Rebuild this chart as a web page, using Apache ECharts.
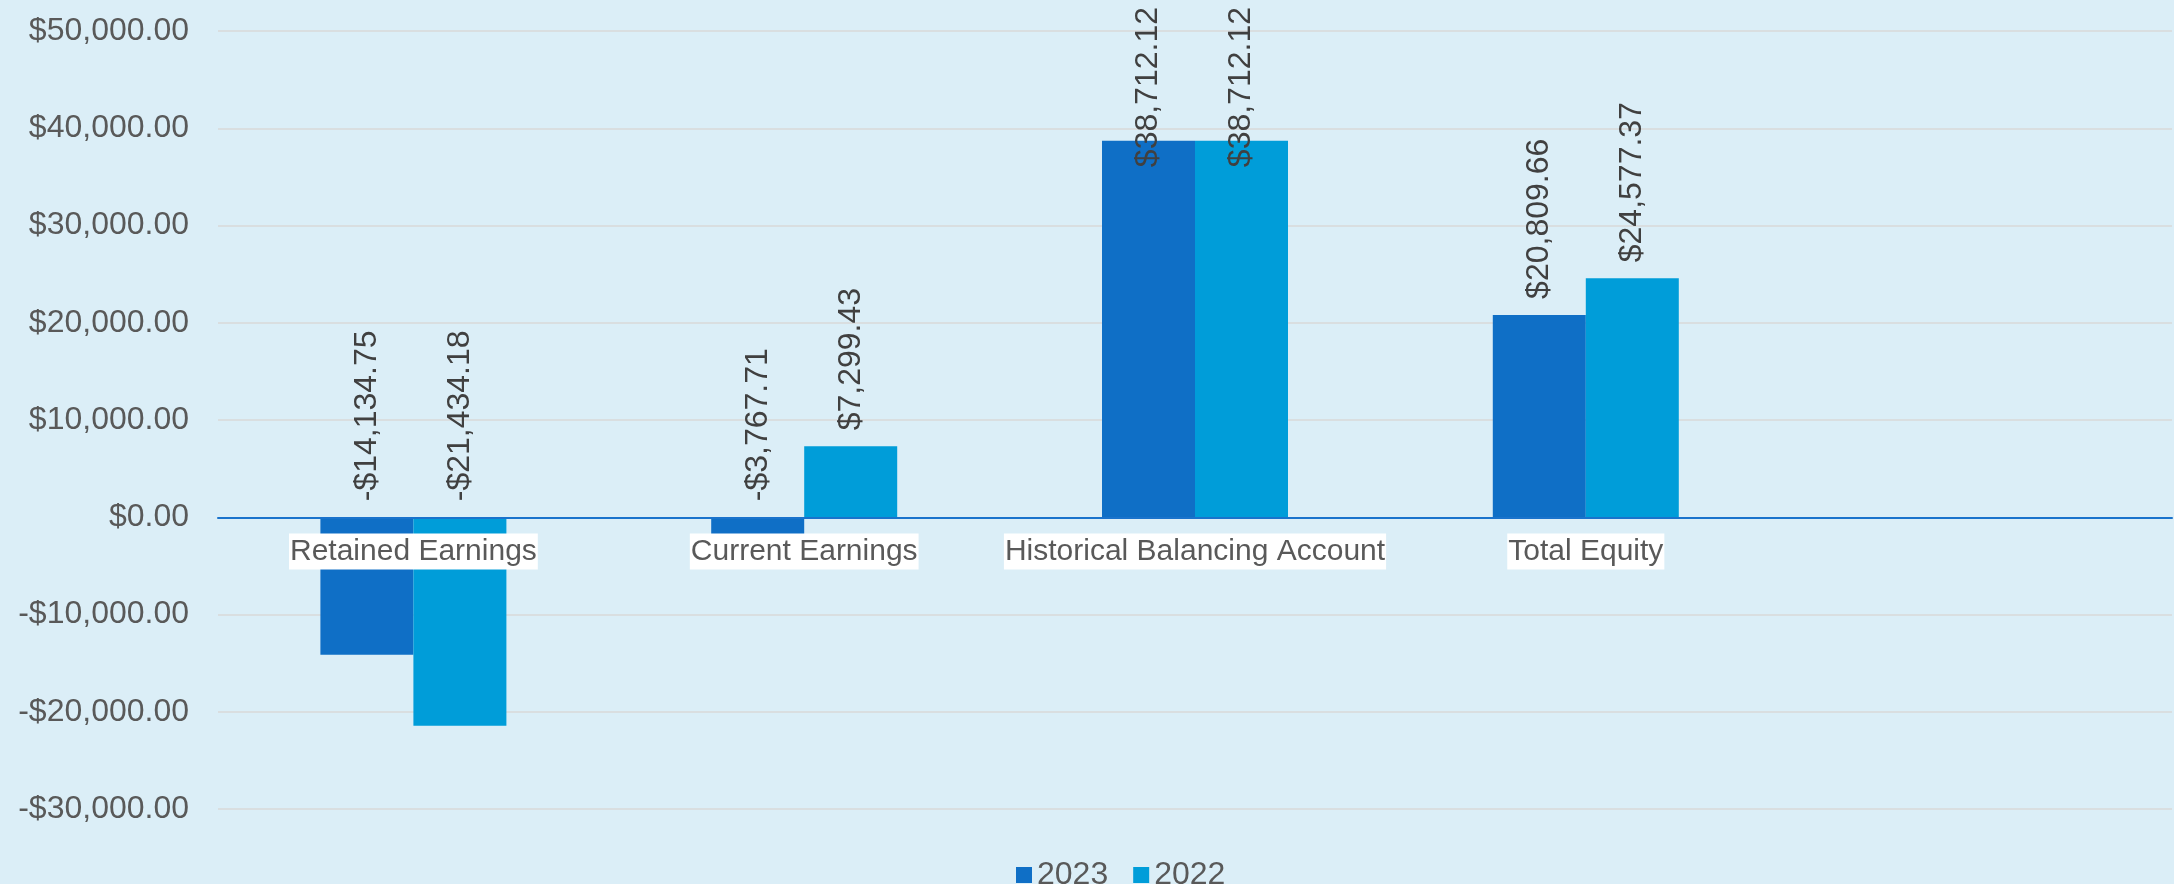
<!DOCTYPE html>
<html>
<head>
<meta charset="utf-8">
<title>Equity</title>
<script src="https://cdn.jsdelivr.net/npm/echarts@6/dist/echarts.min.js"></script>
<style>
  html, body { margin: 0; padding: 0; background: #dbeef7; }
  #chart { width: 2174px; height: 884px; }
</style>
</head>
<body>
<div id="chart"></div>
<script>
// categories (the last slot is an empty category, as in the source sheet)
const categories = ['Retained Earnings', 'Current Earnings', 'Historical Balancing Account', 'Total Equity', '']
const values2023 = [-14134.75, -3767.71, 38712.12, 20809.66, null]
const values2022 = [-21434.18, 7299.43, 38712.12, 24577.37, null]
const yTicks = { min: -30000, max: 50000, step: 10000 }

function money(v) {
  const s = '$' + Math.abs(v).toLocaleString('en-US', { minimumFractionDigits: 2, maximumFractionDigits: 2 })
  return v < 0 ? '-' + s : s
}

const barLabel = {
  show: true,
  position: 'top',
  distance: 16,
  rotate: 90,
  align: 'left',
  verticalAlign: 'middle',
  fontFamily: 'Liberation Sans',
  fontSize: 32,
  color: '#404040',
  formatter: p => money(p.value)
}

// keep labels inside the chart, like Excel does for the tall bars
function keepInside(params) {
  const r = params.labelRect
  if (r.y < 7) return { y: 7 + r.height }
}

const myChart = echarts.init(document.getElementById('chart'))
const option = {
  backgroundColor: '#dbeef7',
  animation: false,
  grid: { left: 218, right: 2, top: 31, bottom: 75, containLabel: false },
  legend: {
    data: ['2023', '2022'],
    left: 1011,
    top: 854,
    itemWidth: 16,
    itemHeight: 16,
    itemGap: 25,
    icon: 'rect',
    textStyle: { fontFamily: 'Liberation Sans', fontSize: 32, color: '#595959' }
  },
  xAxis: {
    type: 'category',
    data: categories,
    z: 10,
    axisTick: { show: false },
    axisLine: { onZero: true, lineStyle: { color: '#1a73cc', width: 2 } },
    axisLabel: {
      interval: 0,
      // labels are laid out from the grid bottom, pull them up under the zero line
      margin: -273,
      formatter: v => (v ? '{box|' + v + '}' : ''),
      rich: {
        box: {
          fontFamily: 'Liberation Sans',
          fontSize: 30,
          lineHeight: 31,
          color: '#595959',
          backgroundColor: '#ffffff',
          padding: [3, 1]
        }
      }
    }
  },
  yAxis: {
    type: 'value',
    min: yTicks.min,
    max: yTicks.max,
    interval: yTicks.step,
    axisLine: { show: false },
    axisTick: { show: false },
    splitLine: { lineStyle: { color: '#d9d9d9', width: 1.5 } },
    axisLabel: {
      margin: 29,
      fontFamily: 'Liberation Sans',
      fontSize: 32,
      color: '#595959',
      formatter: v => money(v)
    }
  },
  series: [{
    name: '2023',
    type: 'bar',
    data: values2023,
    barWidth: 93,
    barGap: '0%',
    itemStyle: { color: '#0f6fc6' },
    label: barLabel,
    labelLayout: keepInside
  }, {
    name: '2022',
    type: 'bar',
    data: values2022,
    barWidth: 93,
    barGap: '0%',
    itemStyle: { color: '#009dd9' },
    label: barLabel,
    labelLayout: keepInside
  }]
}
myChart.setOption(option)
</script>
</body>
</html>
